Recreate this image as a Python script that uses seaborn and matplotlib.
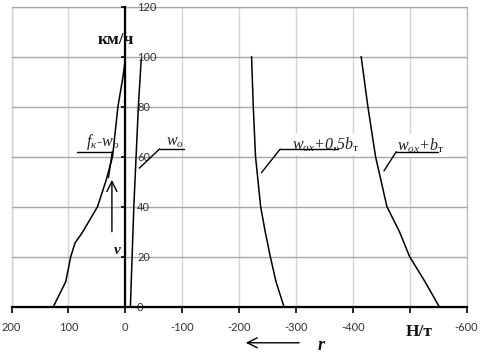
import numpy as np
import pandas as pd
import matplotlib
matplotlib.use("Agg")
import matplotlib.pyplot as plt
import seaborn as sns

# curves: r (Н/т) against v (км/ч)
v_fk = [0, 10, 20, 25.6, 29.3, 40, 50.7, 60, 80, 92, 98]
r_fk = [126.5, 104.7, 95.9, 88.2, 76.5, 48.8, 33.5, 22.4, 12.9, 4, 0.5]

v_wo = [0, 20, 40, 60, 80, 99]
r_wo = [-9, -12, -15, -19, -23, -28]

v_half = [0, 10, 20, 30, 40, 60, 80, 100]
r_half = [-279, -265, -255, -246, -238, -229, -225, -222]

v_full = [0, 10, 20, 30, 40, 60, 80, 100]
r_full = [-552, -527, -500, -482, -460, -440, -426.5, -414.7]

x_ticks = [200, 100, 0, -100, -200, -300, -400, -500, -600]
x_tick_labels = ["200", "100", "0", "-100", "-200", "-300", "-400", "", "-600"]
y_ticks = [0, 20, 40, 60, 80, 100, 120]

frames = []
for name, r, v in [("fk", r_fk, v_fk), ("wo", r_wo, v_wo),
                   ("half", r_half, v_half), ("full", r_full, v_full)]:
    frames.append(pd.DataFrame({"r": r, "v": v, "curve": name}))
df = pd.concat(frames, ignore_index=True)

sns.set_theme(style="white")
plt.rcParams["font.family"] = ["Lato", "DejaVu Sans"]
plt.rcParams["axes.unicode_minus"] = False
plt.rcParams["mathtext.fontset"] = "custom"
plt.rcParams["mathtext.it"] = "Liberation Serif:italic"
plt.rcParams["mathtext.rm"] = "Liberation Serif"

fig = plt.figure(figsize=(4.8, 3.53), dpi=100)
ax = fig.add_axes([0.024, 0.131, 0.948, 0.8505])

sns.lineplot(data=df, x="r", y="v", units="curve", estimator=None, sort=False,
             color="black", lw=1.1, legend=False, ax=ax, zorder=3)

ax.set_xlim(200, -600)
ax.set_ylim(0, 120)
ax.set_xticks(x_ticks)
ax.set_xticklabels(x_tick_labels)
ax.set_yticks(y_ticks)
ax.set_xlabel("")
ax.set_ylabel("")

# grid + plot area border
ax.set_axisbelow(True)
ax.grid(axis="x", color="#d4d4d4", lw=1.0)
ax.grid(axis="y", color="#a6a6a6", lw=1.0)
ax.patch.set_edgecolor("#bdbdbd")
ax.patch.set_linewidth(1.0)

# axes through the origin
ax.spines["left"].set_position(("data", 0))
ax.spines["right"].set_position(("data", 0))
ax.spines["right"].set_visible(False)
ax.spines["top"].set_visible(False)
for s in ["left", "bottom"]:
    ax.spines[s].set_color("black")
    ax.spines[s].set_linewidth(1.6)
    ax.spines[s].set_zorder(4)
ax.tick_params(axis="y", left=True, right=False, labelleft=False, labelright=True,
               direction="out", length=3, width=1.2, pad=5.5, labelsize=8,
               colors="black")
ax.tick_params(axis="x", bottom=True, direction="out", length=4, width=1.2,
               pad=7, labelsize=8, colors="black")
for lab in ax.get_xticklabels() + ax.get_yticklabels():
    lab.set_color("#333333")

serif = ["Liberation Serif", "DejaVu Serif"]
ital = dict(family=serif, style="italic", fontsize=11.5, color="#222222")

# curve labels with leader lines
labels = [
    (r"$f_{к}$-$w_{o}$", (40.5, 65.8), (22.9, 84.7), 62.0, (29.5, 51.6), False),
    (r"$w_{o}$", (-86.5, 65.8), (-60.5, -102.4), 63.1, (-24.7, 55.4), False),
    (r"$w_{ox}$+0,5$b_{\mathrm{т}}$", (-352.9, 65.2), (-272.3, -373.6), 63.0, (-239.5, 53.6), True),
    (r"$w_{ox}$+$b_{\mathrm{т}}$", (-519.6, 64.4), (-476.5, -550.0), 62.0, (-454.8, 54.3), True),
]
for txt, pos, (u0, u1), uy, tip, boxed in labels:
    kw = dict(ital)
    if boxed:
        kw["bbox"] = dict(facecolor="white", edgecolor="none", pad=1.5)
    ax.text(pos[0], pos[1], txt, ha="center", va="center", zorder=3.5, **kw)
    ax.plot([u0, u1], [uy, uy], color="black", lw=1.0, zorder=5)
    ax.annotate("", xy=tip, xytext=(u0, uy),
                arrowprops=dict(arrowstyle="-", color="black", lw=1.0,
                                shrinkA=0, shrinkB=0), zorder=5)

# units and axis symbols
ax.text(15.9, 106.7, "км/ч", ha="center", va="center", family=serif,
        fontweight="bold", fontsize=12.5, color="#111111", zorder=6)
ax.text(14, 22.3, "v", ha="center", va="center", family=serif, style="italic",
        fontweight="bold", fontsize=11, color="#111111", zorder=6)
ax.annotate("", xy=(23.5, 50.7), xytext=(23.5, 30),
            arrowprops=dict(arrowstyle="->,head_length=0.6,head_width=0.3",
                            color="black", lw=1.0, shrinkA=0, shrinkB=0))
ax.text(-517, -10, "Н/т", ha="center", va="center", family=serif,
        fontweight="bold", fontsize=12.5, color="#111111", clip_on=False)
ax.text(-345, -15.5, "r", ha="center", va="center", family=serif, style="italic",
        fontweight="bold", fontsize=13, color="#111111", clip_on=False)
ax.annotate("", xy=(-211.8, -14.4), xytext=(-305.8, -14.4),
            arrowprops=dict(arrowstyle="->,head_length=0.6,head_width=0.3",
                            color="black", lw=1.0, shrinkA=0, shrinkB=0),
            annotation_clip=False)

fig.savefig("out.png", dpi=100)
